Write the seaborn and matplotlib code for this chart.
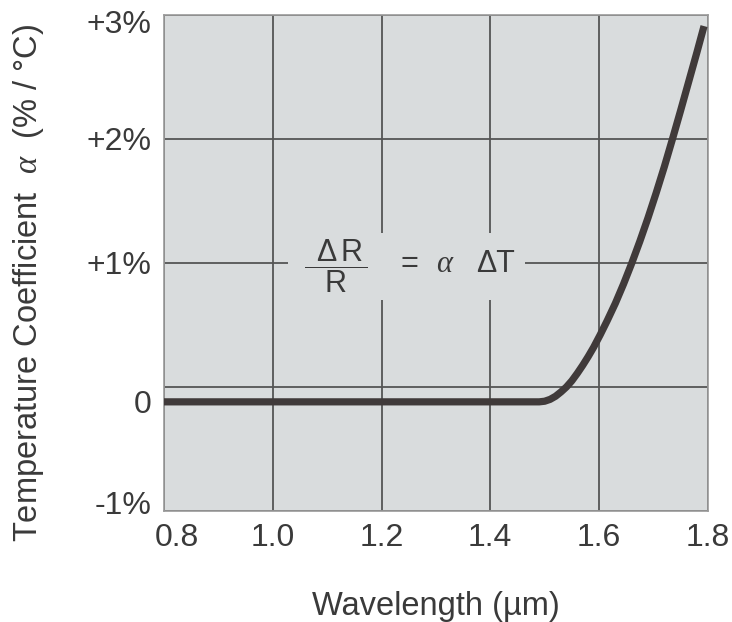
import numpy as np
import pandas as pd
import matplotlib
matplotlib.use("Agg")
import matplotlib.pyplot as plt
import matplotlib.transforms as mtrans
from matplotlib.patches import Rectangle
import seaborn as sns

# valori
wavelength = [0.80, 1.00, 1.20, 1.40, 1.49, 1.50, 1.51, 1.52, 1.53, 1.54,
              1.55, 1.56, 1.57, 1.58, 1.59, 1.602, 1.615, 1.63, 1.645, 1.66,
              1.675, 1.69, 1.705, 1.72, 1.735, 1.75, 1.765, 1.78, 1.793]
alpha_pct = [-0.12, -0.12, -0.12, -0.12, -0.12, -0.115, -0.10, -0.075, -0.04, 0.00,
             0.05, 0.11, 0.175, 0.245, 0.32, 0.42, 0.535, 0.675, 0.83, 0.997,
             1.175, 1.364, 1.565, 1.776, 2.00, 2.23, 2.465, 2.70, 2.91]
x_ticks = [0.8, 1.0, 1.2, 1.4, 1.6, 1.8]
x_labels = ["0.8", "1.0", "1.2", "1.4", "1.6", "1.8"]
y_ticks = [-1, 0, 1, 2, 3]
y_labels = ["-1%", "0", "+1%", "+2%", "+3%"]

gray_bg = "#d9dcdd"
testo = "#3a3a3a"
sns.set_style("whitegrid", {"axes.facecolor": gray_bg, "grid.color": "#555555",
                            "axes.edgecolor": "#9a9a9a"})
plt.rcParams["font.family"] = ["Liberation Sans", "DejaVu Sans"]
plt.rcParams["mathtext.fontset"] = "custom"
plt.rcParams["mathtext.rm"] = "Liberation Sans"
plt.rcParams["mathtext.it"] = "Liberation Serif:italic"

df = pd.DataFrame({"wl": wavelength, "alpha": alpha_pct})

fig = plt.figure(figsize=(7.32, 6.22), dpi=100)
ax = fig.add_axes([0.224, 0.1785, 0.743, 0.7975])
sns.lineplot(data=df, x="wl", y="alpha", ax=ax, color="#403a3a", lw=5.2,
             solid_capstyle="butt", solid_joinstyle="round", zorder=3)
ax.grid(True, lw=1.3, color="#555555")
ax.set_axisbelow(True)
ax.set_xlim(0.8, 1.8)
ax.set_ylim(-1, 3)
ax.set_xticks(x_ticks)
ax.set_xticklabels(x_labels)
ax.set_yticks(y_ticks)
ax.set_yticklabels(y_labels)
ax.tick_params(length=0, labelsize=23, labelcolor=testo)
ax.tick_params(axis="x", pad=9)
ax.tick_params(axis="y", pad=9)
for sp in ax.spines.values():
    sp.set_linewidth(1.2)

# piccoli spostamenti delle etichette come nell'originale
def sposta(lab, dx, dy):
    lab.set_transform(lab.get_transform() +
                      mtrans.ScaledTranslation(dx / 100, dy / 100, fig.dpi_scale_trans))

ylab = ax.get_yticklabels()
sposta(ylab[0], 0, 8)
sposta(ylab[1], 0, -15)
sposta(ylab[4], 0, -7)
sposta(ax.get_xticklabels()[0], 13, 0)

ax.set_xlabel("Wavelength (µm)", fontsize=23.5, color=testo, labelpad=27)
ax.set_ylabel("Temperature Coefficient  $\\alpha$  (% / °C)", fontsize=23.5,
              color=testo)
ax.yaxis.set_label_coords(-0.216, 0.46)

# equazione con sfondo grigio che copre la griglia
ax.add_patch(Rectangle((1.028, 0.70), 0.436, 0.54, facecolor=gray_bg,
                       edgecolor="none", zorder=1))
kw = dict(fontsize=22, color=testo, ha="center", va="center", zorder=2)
ax.text(1.117, 0.97, r"$\dfrac{\;\;\Delta\,\mathrm{R}\,}{\mathrm{R}}$", **kw)
ax.text(1.251, 0.99, "=", **kw)
ax.text(1.317, 0.99, r"$\alpha$", **kw)
ax.text(1.409, 0.99, "ΔT", **kw)

fig.savefig("out.png", dpi=100)
